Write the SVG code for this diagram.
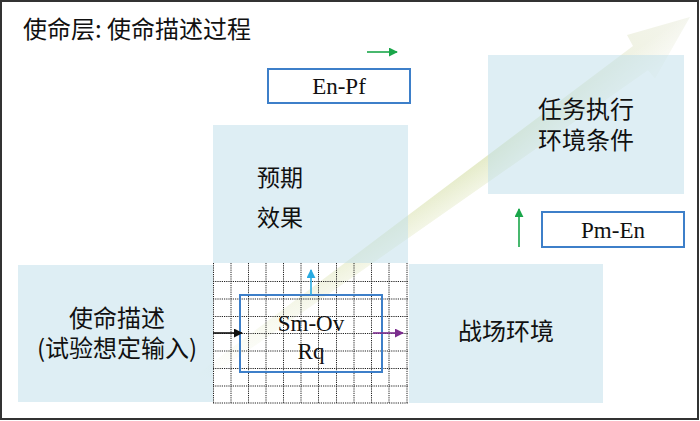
<svg xmlns="http://www.w3.org/2000/svg" width="700" height="421" viewBox="0 0 700 421">
<style>
.box{fill:#bedeea;fill-opacity:0.5;stroke:none}
.lbl{stroke:#3d7fc9;stroke-width:2;fill:#fff}
.cjk{font-family:"Noto Sans CJK SC","Noto Sans",sans-serif;font-size:24px;fill:#111}
.mid{text-anchor:middle}
.lat{font-family:"Liberation Serif","Times New Roman",serif;font-size:23px;fill:#111;text-anchor:middle}
.grid line{stroke:#222;stroke-width:1;stroke-dasharray:1.2 1}
.c{stroke-width:1.6;fill:none}
</style>
<defs>
<marker id="hG" viewBox="0 0 10 10" refX="9" refY="5" markerWidth="9" markerHeight="9" markerUnits="userSpaceOnUse" orient="auto"><path d="M0,0L10,5L0,10z" fill="#1aa64a"/></marker>
<marker id="hK" viewBox="0 0 10 10" refX="9" refY="5" markerWidth="9" markerHeight="9" markerUnits="userSpaceOnUse" orient="auto"><path d="M0,0L10,5L0,10z" fill="#111"/></marker>
<marker id="hC" viewBox="0 0 10 10" refX="9" refY="5" markerWidth="9" markerHeight="9" markerUnits="userSpaceOnUse" orient="auto"><path d="M0,0L10,5L0,10z" fill="#29abe2"/></marker>
<marker id="hP" viewBox="0 0 10 10" refX="9" refY="5" markerWidth="9" markerHeight="9" markerUnits="userSpaceOnUse" orient="auto"><path d="M0,0L10,5L0,10z" fill="#7b2d8e"/></marker>
<linearGradient id="along" gradientUnits="userSpaceOnUse" x1="192" y1="378" x2="690" y2="17">
<stop offset="0" stop-color="#e2e8c0" stop-opacity="0"/>
<stop offset="0.3" stop-color="#e2e8c0" stop-opacity="0.6"/>
<stop offset="0.6" stop-color="#dde5b8" stop-opacity="0.75"/>
<stop offset="1" stop-color="#eceee0" stop-opacity="0.6"/>
</linearGradient>
<linearGradient id="across" gradientUnits="userSpaceOnUse" x1="448" y1="185" x2="466" y2="210">
<stop offset="0" stop-color="#fff" stop-opacity="0"/>
<stop offset="1" stop-color="#fff" stop-opacity="1"/>
</linearGradient>
</defs>
<rect x="0" y="0" width="700" height="421" fill="#fff"/>

<g id="trend-arrow">
<path d="M192,378 L633,46 L627,35 L690,17 L655,78 L648,70 L200,384 Z" fill="url(#along)"/>
<path d="M192,378 L633,46 L627,35 L690,17 L655,78 L648,70 L200,384 Z" fill="url(#across)" opacity="0.7"/>
</g>

<text class="cjk" x="23" y="38">使命层: 使命描述过程</text>

<g id="node-effect"><rect class="box" x="213" y="125" width="195" height="138"/>
<text class="cjk" x="257" y="186" style="font-size:23px">预期</text><text class="cjk" x="257" y="226" style="font-size:23px">效果</text></g>

<g id="node-mission"><rect class="box" x="18" y="265" width="195" height="137"/>
<text class="cjk mid" x="117" y="327">使命描述</text>
<text class="cjk mid" x="117" y="357">(试验想定输入)</text></g>

<g id="node-battle"><rect class="box" x="409" y="264" width="194" height="139"/>
<text class="cjk mid" x="506" y="340">战场环境</text></g>

<g id="node-env"><rect class="box" x="488" y="55" width="196" height="139"/>
<text class="cjk mid" x="586" y="118">任务执行</text>
<text class="cjk mid" x="586" y="149">环境条件</text></g>

<g id="node-grid" class="grid">
<line x1="213.5" y1="263" x2="213.5" y2="403"/><line x1="231" y1="263" x2="231" y2="403"/><line x1="248.5" y1="263" x2="248.5" y2="403"/><line x1="266" y1="263" x2="266" y2="403"/><line x1="283.5" y1="263" x2="283.5" y2="403"/><line x1="301" y1="263" x2="301" y2="403"/><line x1="318.5" y1="263" x2="318.5" y2="403"/><line x1="336.5" y1="263" x2="336.5" y2="403"/><line x1="354" y1="263" x2="354" y2="403"/><line x1="371.5" y1="263" x2="371.5" y2="403"/><line x1="389" y1="263" x2="389" y2="403"/><line x1="407" y1="263" x2="407" y2="403"/>
<line x1="213" y1="281.5" x2="408" y2="281.5"/><line x1="213" y1="299" x2="408" y2="299"/><line x1="213" y1="316.5" x2="408" y2="316.5"/><line x1="213" y1="333.5" x2="408" y2="333.5"/><line x1="213" y1="351" x2="408" y2="351"/><line x1="213" y1="368.5" x2="408" y2="368.5"/><line x1="213" y1="386" x2="408" y2="386"/><line x1="213" y1="403" x2="408" y2="403"/>
</g>

<g id="node-smov"><rect x="240" y="295" width="142" height="77" fill="none" stroke="#3d7fc9" stroke-width="2"/>
<text class="lat" x="311" y="331">Sm-Ov</text><text class="lat" x="311" y="359">Rq</text></g>

<g id="node-enpf"><rect class="lbl" x="268" y="69" width="142" height="34"/>
<text class="lat" x="339" y="94">En-Pf</text></g>

<g id="node-pmen"><rect class="lbl" x="542" y="212" width="142" height="35"/>
<text class="lat" x="613" y="238">Pm-En</text></g>

<g id="connectors">
<line class="c" x1="367" y1="52" x2="397" y2="52" stroke="#1aa64a" marker-end="url(#hG)"/>
<line class="c" x1="519" y1="247" x2="519" y2="209" stroke="#1aa64a" marker-end="url(#hG)"/>
<line class="c" x1="213" y1="333" x2="242" y2="333" stroke="#111" marker-end="url(#hK)"/>
<line class="c" x1="311" y1="295" x2="311" y2="270" stroke="#29abe2" marker-end="url(#hC)"/>
<line class="c" x1="373" y1="333" x2="403" y2="333" stroke="#7b2d8e" marker-end="url(#hP)"/>
</g>

<rect x="1" y="1" width="697" height="418" fill="none" stroke="#333" stroke-width="2"/>
</svg>
